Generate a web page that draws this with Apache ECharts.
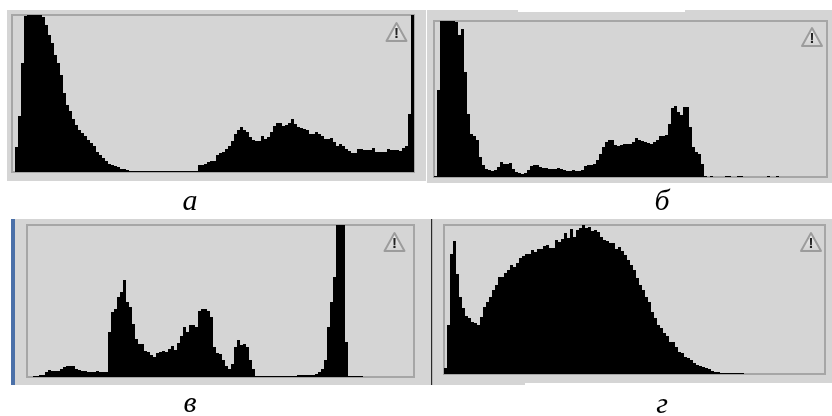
<!DOCTYPE html>
<html>
<head>
<meta charset="utf-8">
<script src="https://cdn.jsdelivr.net/npm/echarts@6/dist/echarts.min.js"></script>
<style>
html, body { margin: 0; padding: 0; background: #fff; }
#chart { width: 832px; height: 416px; }
</style>
</head>
<body>
<div id="chart"></div>
<script>
// histogram heights
const histA = [0,25,56,109,156,157,157,157,157,157,155,147,137,129,117,109,97,79,67,61,53,47,42,39,36,32,29,26,20,17,14,11,8,7,6,5,3,3,2,1,
  1,1,1,1,1,1,1,1,1,1,1,1,1,1,1,1,1,1,1,1,1,1,
  7,7,8,10,11,11,17,19,20,23,26,31,38,42,45,42,40,35,32,31,31,36,33,35,40,46,49,49,46,47,49,53,48,45,44,43,42,38,38,40,38,36,33,33,34,30,26,28,26,23,21,19,19,23,23,22,22,22,24,20,20,20,20,23,22,22,22,21,24,26,58,157];
const histB = [1,87,156,156,156,156,156,155,142,148,105,63,43,41,37,20,12,8,7,6,7,10,15,13,13,14,8,5,4,3,4,7,11,12,12,10,9,9,8,8,8,9,8,7,6,6,7,6,6,7,11,12,12,13,17,23,30,35,37,37,32,31,32,33,33,
  33,35,39,37,36,35,34,33,35,37,41,41,42,53,69,71,65,62,70,70,50,30,25,23,13,1,
  0,1,0,0,0,0,1,1,0,0,1,1,0,0,0,0,0,0,0,0,1,0,0,1,0,0,0,0,0,0,0,0,0,0,0,0,0,0,0,0];
const histV = [0,0,1,1,2,2,5,7,6,6,6,8,10,11,11,11,8,7,6,6,5,5,5,6,5,5,5,45,65,68,80,85,97,75,70,53,38,33,33,26,25,22,20,24,25,26,25,28,31,27,34,41,50,45,52,52,50,66,68,68,66,60,
  30,24,23,17,11,8,13,30,37,32,33,30,17,8,1,1,1,1,1,1,1,1,1,1,1,1,1,1,2,2,2,2,2,2,3,5,8,17,50,75,100,152,152,152,35,1,1,1,1,1,0,0,0,0,0,0,0,0,0,0,0,0,0,0,0,0,0];
const histG = [6,49,120,133,100,77,66,58,56,52,51,49,57,67,72,77,84,89,97,97,101,104,109,107,111,116,118,120,120,124,122,125,125,128,129,126,126,134,132,135,141,136,145,137,144,146,149,146,147,143,144,142,137,134,133,131,131,125,127,123,119,114,
  109,104,96,89,84,77,72,62,56,49,46,41,38,32,32,27,22,21,17,16,14,11,9,8,7,6,5,3,2,2,1,1,1,1,1,1,1,1,0,0,0,0,0,0,0,0,0,0,0,0,0,0,0,0,0,0,0,0,0,0,0,0,0,0,0];
const captions = ['а', 'б', 'в', 'г'];

const panels = [
  { data: histA, left: 12, top: 15, height: 157, cap: [190, 217.5], icon: [396.5, 23] },
  { data: histB, left: 434, top: 21, height: 156, cap: [662, 217.5], icon: [812, 28] },
  { data: histV, left: 27, top: 225, height: 152, cap: [190, 419.5], icon: [394.5, 233] },
  { data: histG, left: 444, top: 225, height: 149, cap: [662, 420], icon: [811, 233] }
];

function rect(x, y, w, h, fill) {
  return { type: 'rect', z: -1, silent: true, shape: { x: x, y: y, width: w, height: h }, style: { fill: fill } };
}

// warning triangle in the corner of each panel
function icon(pos) {
  return {
    type: 'group',
    x: pos[0],
    y: pos[1],
    children: [{
      type: 'polygon',
      shape: { points: [[0, 0], [10, 18], [-10, 18]] },
      style: {
        stroke: '#9c9c9c',
        lineWidth: 2,
        lineJoin: 'round',
        fill: { type: 'linear', x: 0, y: 0, x2: 0, y2: 1, colorStops: [{ offset: 0, color: '#f2f2f2' }, { offset: 1, color: '#cfcfcf' }] }
      }
    }, {
      type: 'text',
      style: { x: 0, y: 3, text: '!', fill: '#222', font: 'bold 15px "Liberation Sans"', textAlign: 'center' }
    }]
  };
}

let elements = [
  rect(7, 10, 419, 171, '#d5d5d5'),
  rect(427, 10, 405, 173, '#d5d5d5'),
  rect(518, 10, 167, 2, '#ffffff'),
  rect(11, 219, 4, 166, '#4b70a8'),
  rect(15, 219, 416, 166, '#d5d5d5'),
  rect(431, 219, 1.5, 166, '#2a2a2a'),
  rect(432.5, 219, 400, 166, '#d5d5d5'),
  rect(525, 383, 307, 2, '#ffffff')
];
panels.forEach((p, i) => {
  elements.push(icon(p.icon));
  elements.push({
    type: 'text',
    style: {
      x: p.cap[0],
      y: p.cap[1],
      text: captions[i],
      fill: '#000',
      font: 'italic 30px "Liberation Serif"',
      textAlign: 'center',
      textVerticalAlign: 'bottom'
    }
  });
});

let chart = echarts.init(document.getElementById('chart'), null, { renderer: 'canvas' });
chart.setOption({
  animation: false,
  backgroundColor: '#fff',
  graphic: { elements: elements },
  grid: panels.map(p => ({
    show: true,
    left: p.left,
    top: p.top,
    width: p.data.length * 3,
    height: p.height,
    backgroundColor: '#d5d5d5',
    borderColor: '#a6a6a6',
    borderWidth: 2
  })),
  xAxis: panels.map((p, i) => ({
    type: 'category',
    gridIndex: i,
    show: false,
    data: p.data.map((v, k) => k)
  })),
  yAxis: panels.map((p, i) => ({
    type: 'value',
    gridIndex: i,
    show: false,
    min: 0,
    max: p.height
  })),
  series: panels.map((p, i) => ({
    type: 'bar',
    xAxisIndex: i,
    yAxisIndex: i,
    data: p.data,
    barCategoryGap: '0%',
    silent: true,
    itemStyle: { color: '#000' }
  }))
});
</script>
</body>
</html>
